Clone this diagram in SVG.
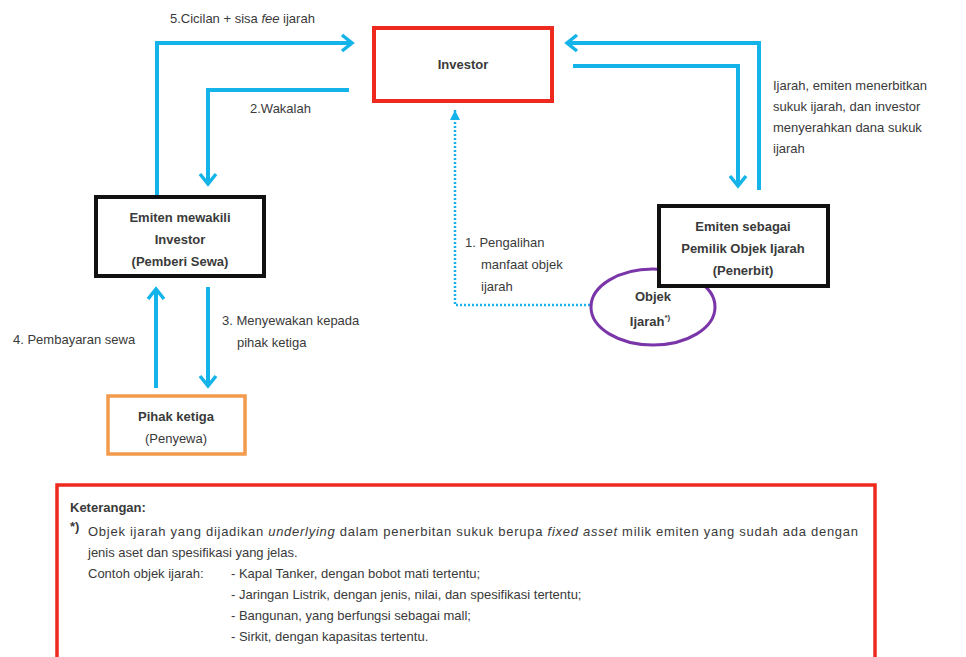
<svg xmlns="http://www.w3.org/2000/svg" width="966" height="657" viewBox="0 0 966 657">
<defs>
<style>
text{font-family:"Liberation Sans","Open Sans",Arial,sans-serif;fill:#3a3a3a;font-size:13px}
.b{font-weight:bold}
.c{text-anchor:middle}
.conn{fill:none;stroke:#14b4ea;stroke-width:4;stroke-linecap:butt}
.dot{fill:none;stroke:#14b4ea;stroke-width:2.5;stroke-dasharray:2 2}
</style>
<marker id="chev" markerUnits="userSpaceOnUse" markerWidth="16" markerHeight="20" refX="13" refY="10" orient="auto" overflow="visible">
<polyline points="3,2 13,10 3,18" fill="none" stroke="#14b4ea" stroke-width="3.5" stroke-linejoin="miter"/>
</marker>
<marker id="tri" markerUnits="userSpaceOnUse" markerWidth="12" markerHeight="12" refX="10" refY="5" orient="auto" overflow="visible">
<path d="M0,0 L10,5 L0,10 Z" fill="#14b4ea"/>
</marker>
</defs>
<rect width="966" height="657" fill="#ffffff"/>

<g id="connectors">
<path class="conn" d="M157,196 V43 H352" marker-end="url(#chev)"/>
<path class="conn" d="M349,90 H208 V184" marker-end="url(#chev)"/>
<path class="conn" d="M759,190 V43 H567" marker-end="url(#chev)"/>
<path class="conn" d="M573,66 H738 V186" marker-end="url(#chev)"/>
<path class="conn" d="M156,388 V289" marker-end="url(#chev)"/>
<path class="conn" d="M208,287 V386" marker-end="url(#chev)"/>
<path class="dot" d="M590,305 H455 V110" marker-end="url(#tri)"/>
<text x="170" y="23">5.Cicilan + sisa <tspan font-style="italic">fee</tspan> ijarah</text>
<text x="250" y="113">2.Wakalah</text>
<text x="773" y="90">Ijarah, emiten menerbitkan</text>
<text x="773" y="111">sukuk ijarah, dan investor</text>
<text x="773" y="132">menyerahkan dana sukuk</text>
<text x="773" y="153">ijarah</text>
<text x="465" y="247">1. Pengalihan</text>
<text x="481" y="269">manfaat objek</text>
<text x="481" y="291">ijarah</text>
<text x="13" y="344">4. Pembayaran sewa</text>
<text x="222" y="325">3. Menyewakan kepada</text>
<text x="237" y="347">pihak ketiga</text>
</g>

<g id="investor">
<rect x="374" y="28" width="178" height="73" fill="#fff" stroke="#ee2a1e" stroke-width="4"/>
<text class="b c" x="463" y="69" font-size="15">Investor</text>
</g>

<g id="emiten-mewakili">
<rect x="96" y="197" width="168" height="79" fill="#fff" stroke="#111" stroke-width="4"/>
<text class="b c" x="180" y="222">Emiten mewakili</text>
<text class="b c" x="180" y="244">Investor</text>
<text class="b c" x="180" y="266">(Pemberi Sewa)</text>
</g>

<g id="objek-ijarah">
<ellipse cx="653" cy="307" rx="62" ry="38" fill="#fff" stroke="#7a35a8" stroke-width="3"/>
<text class="b c" x="653" y="301">Objek</text>
<text class="b c" x="650" y="326">Ijarah<tspan dy="-6" font-size="8">*)</tspan></text>
</g>

<g id="emiten-sebagai">
<rect x="659" y="206" width="169" height="80" fill="#fff" stroke="#111" stroke-width="4"/>
<text class="b c" x="743" y="231">Emiten sebagai</text>
<text class="b c" x="743" y="253">Pemilik Objek Ijarah</text>
<text class="b c" x="743" y="275">(Penerbit)</text>
</g>

<g id="pihak-ketiga">
<rect x="108" y="396" width="137" height="58" fill="#fff" stroke="#f39a4c" stroke-width="3.5"/>
<text class="b c" x="176" y="421">Pihak ketiga</text>
<text class="c" x="176" y="443">(Penyewa)</text>
</g>

<g id="keterangan">
<rect x="57" y="485" width="818" height="180" fill="#fff" stroke="#ee2a1e" stroke-width="3.5"/>
<text class="b" x="70" y="512" font-size="12.5">Keterangan:</text>
<text class="b" x="70" y="531" font-size="9">*)</text>
<text x="88" y="536" font-size="12.5" textLength="770" lengthAdjust="spacing">Objek ijarah yang dijadikan <tspan font-style="italic">underlying</tspan> dalam penerbitan sukuk berupa <tspan font-style="italic">fixed asset</tspan> milik emiten yang sudah ada dengan</text>
<text x="88" y="557" font-size="12.5">jenis aset dan spesifikasi yang jelas.</text>
<text x="88" y="578" font-size="12.5">Contoh objek ijarah:</text>
<text x="231" y="578" font-size="12.5">- Kapal Tanker, dengan bobot mati tertentu;</text>
<text x="231" y="599" font-size="12.5">- Jaringan Listrik, dengan jenis, nilai, dan spesifikasi tertentu;</text>
<text x="231" y="620" font-size="12.5">- Bangunan, yang berfungsi sebagai mall;</text>
<text x="231" y="641" font-size="12.5">- Sirkit, dengan kapasitas tertentu.</text>
</g>
</svg>
